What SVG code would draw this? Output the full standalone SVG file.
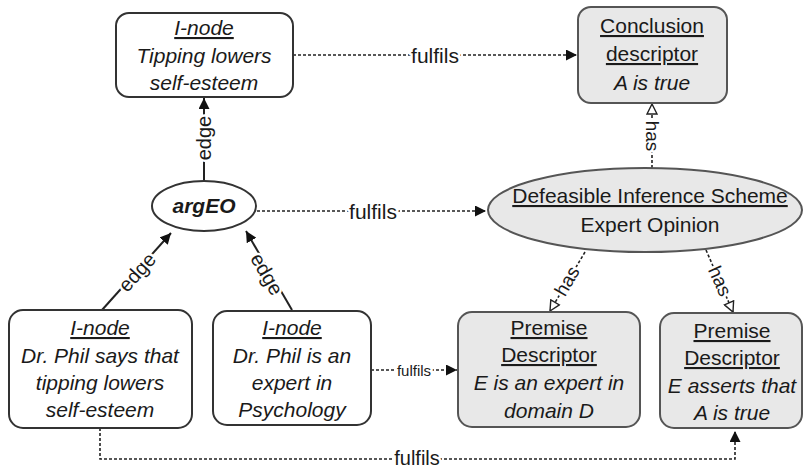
<svg xmlns="http://www.w3.org/2000/svg" width="804" height="470" viewBox="0 0 804 470">
<defs>
<style>
.box{fill:#fff;stroke:#333;stroke-width:2}
.gbox{fill:#e8e8e8;stroke:#555;stroke-width:2}
text{font-family:"Liberation Sans",Arial,sans-serif;fill:#1a1a1a}
.t{font-size:21px;text-anchor:middle}
.i{font-style:italic}
.u{text-decoration:underline}
.dash{fill:none;stroke:#222;stroke-width:1.6;stroke-dasharray:3 2}
.solid{fill:none;stroke:#222;stroke-width:2}
.lbl{font-size:21px;text-anchor:middle;dominant-baseline:central;stroke:#fff;stroke-width:5;paint-order:stroke;stroke-linejoin:round}
</style>
<marker id="fa" viewBox="0 0 10 10" refX="10" refY="5" markerWidth="11" markerHeight="11" markerUnits="userSpaceOnUse" orient="auto">
<path d="M0,0 L10,5 L0,10 z" fill="#111"/>
</marker>
<marker id="ha" viewBox="0 0 12 12" refX="11" refY="6" markerWidth="12" markerHeight="12" markerUnits="userSpaceOnUse" orient="auto">
<path d="M1,1 L11,6 L1,11 z" fill="#fff" stroke="#222" stroke-width="1.4"/>
</marker>
</defs>

<g id="connectors">
<line class="dash" x1="293" y1="55" x2="577" y2="55" marker-end="url(#fa)"/>
<text class="lbl" x="435" y="55">fulfils</text>
<line class="dash" x1="257" y1="211" x2="486" y2="211" marker-end="url(#fa)"/>
<text class="lbl" x="373" y="211">fulfils</text>
<line class="dash" x1="371" y1="370" x2="457" y2="370" marker-end="url(#fa)"/>
<text class="lbl" x="414" y="370" style="font-size:15px">fulfils</text>
<path class="dash" d="M100,428 V459 H735 V431" marker-end="url(#fa)"/>
<text class="lbl" x="417" y="458" style="font-size:20px">fulfils</text>
<line class="solid" x1="204" y1="181" x2="204" y2="98" marker-end="url(#fa)"/>
<text class="lbl" transform="translate(204,138) rotate(-90)" style="font-size:20px">edge</text>
<line class="solid" x1="102" y1="310" x2="171" y2="233" marker-end="url(#fa)"/>
<text class="lbl" transform="translate(137,272) rotate(-48)" style="font-size:20px">edge</text>
<line class="solid" x1="292" y1="310" x2="246" y2="231" marker-end="url(#fa)"/>
<text class="lbl" transform="translate(267,274) rotate(60)" style="font-size:20px">edge</text>
<line class="dash" x1="652" y1="168" x2="652" y2="104" marker-end="url(#ha)"/>
<text class="lbl" transform="translate(652,136) rotate(90)" style="font-size:19px">has</text>
<line class="dash" x1="585" y1="252" x2="550" y2="311" marker-end="url(#ha)"/>
<text class="lbl" transform="translate(567,281) rotate(-60)" style="font-size:19px">has</text>
<line class="dash" x1="706" y1="250" x2="733" y2="312" marker-end="url(#ha)"/>
<text class="lbl" transform="translate(720,281) rotate(66)" style="font-size:19px">has</text>
</g>

<g id="inode-top">
<rect class="box" x="116" y="13" width="177" height="84" rx="13"/>
<text class="t i u" x="204" y="35">I-node</text>
<text class="t i" x="204" y="63">Tipping lowers</text>
<text class="t i" x="204" y="90">self-esteem</text>
</g>

<g id="conclusion">
<rect class="gbox" x="578" y="7" width="149" height="96" rx="13"/>
<text class="t u" x="652" y="33">Conclusion</text>
<text class="t u" x="652" y="61">descriptor</text>
<text class="t i" x="652" y="90">A is true</text>
</g>

<g id="argEO">
<ellipse class="box" cx="204" cy="206" rx="52" ry="25"/>
<text class="t i" x="204" y="213" style="font-weight:bold">argEO</text>
</g>

<g id="dis">
<ellipse class="gbox" cx="645" cy="210" rx="157" ry="42"/>
<text class="t u" x="650" y="203">Defeasible Inference Scheme</text>
<text class="t" x="650" y="232">Expert Opinion</text>
</g>

<g id="inode-says">
<rect class="box" x="9" y="310" width="183" height="118" rx="14"/>
<text class="t i u" x="100" y="335">I-node</text>
<text class="t i" x="100" y="363">Dr. Phil says that</text>
<text class="t i" x="100" y="390">tipping lowers</text>
<text class="t i" x="100" y="417">self-esteem</text>
</g>

<g id="inode-expert">
<rect class="box" x="213" y="311" width="158" height="114" rx="14"/>
<text class="t i u" x="292" y="335">I-node</text>
<text class="t i" x="292" y="363">Dr. Phil is an</text>
<text class="t i" x="292" y="390">expert in</text>
<text class="t i" x="292" y="417">Psychology</text>
</g>

<g id="premise1">
<rect class="gbox" x="458" y="312" width="182" height="115" rx="14"/>
<text class="t u" x="549" y="335">Premise</text>
<text class="t u" x="549" y="362">Descriptor</text>
<text class="t i" x="549" y="390">E is an expert in</text>
<text class="t i" x="549" y="418">domain D</text>
</g>

<g id="premise2">
<rect class="gbox" x="660" y="313" width="142" height="115" rx="14"/>
<text class="t u" x="732" y="338">Premise</text>
<text class="t u" x="732" y="365">Descriptor</text>
<text class="t i" x="732" y="393">E asserts that</text>
<text class="t i" x="732" y="420">A is true</text>
</g>
</svg>
